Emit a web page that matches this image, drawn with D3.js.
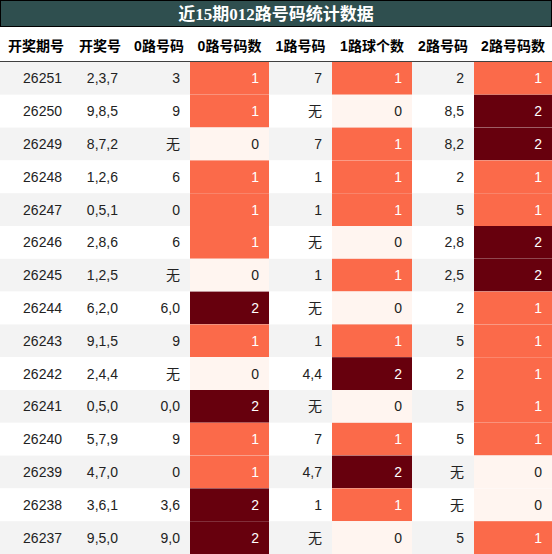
<!DOCTYPE html><html><head><meta charset="utf-8">
<script src="https://cdn.jsdelivr.net/npm/d3@7"></script>
<style>body{margin:0;background:#fff}</style></head><body><svg id="c" width="552" height="554"></svg>
<script>
const title="近15期012路号码统计数据";
const headers=["开奖期号","开奖号","0路号码","0路号码数","1路号码","1路球个数","2路号码","2路号码数"];
const periods=["26251","26250","26249","26248","26247","26246","26245","26244","26243","26242","26241","26240","26239","26238","26237"];
const draws=["2,3,7","9,8,5","8,7,2","1,2,6","0,5,1","2,8,6","1,2,5","6,2,0","9,1,5","2,4,4","0,5,0","5,7,9","4,7,0","3,6,1","9,5,0"];
const r0=["3","9","无","6","0","6","无","6,0","9","无","0,0","9","0","3,6","9,0"];
const c0=[1,1,0,1,1,1,0,2,1,0,2,1,1,2,2];
const r1=["7","无","7","1","1","无","1","无","1","4,4","无","7","4,7","1","无"];
const c1=[1,0,1,1,1,0,1,0,1,2,0,1,2,1,0];
const r2=["2","8,5","8,2","2","5","2,8","2,5","2","5","2","5","5","无","无","5"];
const c2=[1,2,2,1,1,2,2,1,1,1,1,1,0,0,1];
const edges=[0,72,128,190,269,332,412,474,552];
const svg=d3.select("#c");
const font="'Liberation Sans','Noto Sans CJK SC',sans-serif";
const y=d3.scaleBand().domain(d3.range(15)).range([62,554]);
const color=d3.scaleOrdinal().domain([0,1,2]).range(["#fff5f0","#fb6a4a","#67000d"]);
svg.append("rect").attr("x",0.5).attr("y",0.5).attr("width",551).attr("height",26).attr("fill","#2f4f4f").attr("stroke","#000");
svg.append("text").attr("x",276).attr("y",20).attr("text-anchor","middle").attr("fill","#fff").attr("font-weight","bold").attr("font-size",17).attr("font-family","'Liberation Serif','Noto Sans CJK SC',serif").text(title);
headers.forEach((h,i)=>svg.append("text").attr("x",(edges[i]+edges[i+1])/2).attr("y",51).attr("text-anchor","middle").attr("font-weight","bold").attr("font-size",14).attr("font-family",font).text(h));
svg.append("line").attr("x1",0).attr("x2",552).attr("y1",62).attr("y2",62).attr("stroke","#000").attr("stroke-width",1.5);
const cols=[periods,draws,r0,c0,r1,c1,r2,c2];
const countCols={3:c0,5:c1,7:c2};
d3.range(15).forEach(r=>{
  svg.append("rect").attr("x",0).attr("y",y(r)).attr("width",552).attr("height",y.bandwidth()).attr("fill",r%2===0?"#f3f3f3":"#fff");
  cols.forEach((col,i)=>{
    const isCount=i in countCols;
    if(isCount) svg.append("rect").attr("x",edges[i]).attr("y",y(r)).attr("width",edges[i+1]-edges[i]).attr("height",y.bandwidth()).attr("fill",color(col[r]));
    svg.append("text").attr("x",edges[i+1]-10).attr("y",y(r)+y.bandwidth()/2+5).attr("text-anchor","end").attr("font-size",14).attr("font-family",font)
      .attr("fill",isCount&&col[r]>0?"#fff":"#222").text(col[r]);
  });
});
</script></body></html>
